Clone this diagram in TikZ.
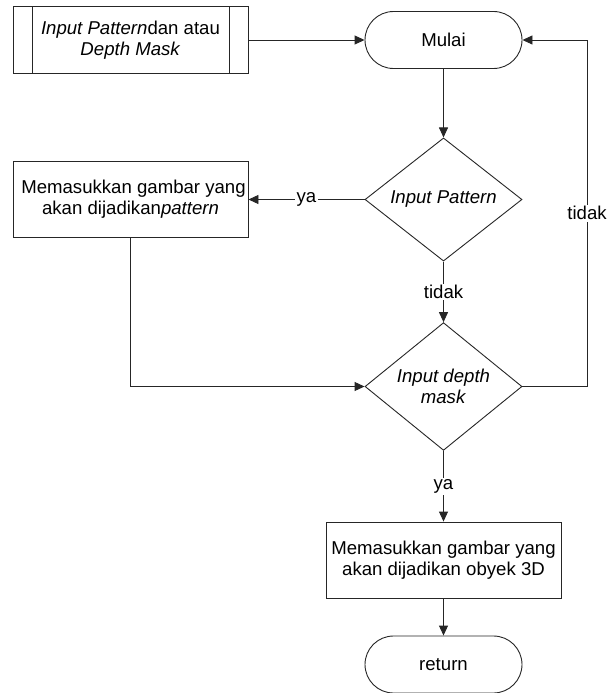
\documentclass[tikz,border=0pt]{standalone}
\usepackage{fontspec}
\setmainfont{Liberation Sans}
\usetikzlibrary{shapes.geometric,shapes.misc,arrows.meta}

\tikzset{
  base/.style={draw=black!85, line width=0.9pt, fill=white, inner sep=0pt,
               align=center, font=\fontsize{18.6}{21}\selectfont},
  procbox/.style={base, rectangle, minimum width=235pt, minimum height=76pt},
  predef/.style={base, rectangle, minimum width=235pt, minimum height=67pt},
  terminal/.style={base, rounded rectangle, minimum width=157pt, minimum height=57pt},
  decision/.style={base, diamond, minimum width=157pt, minimum height=115pt},
  flow/.style={draw=black!85, line width=0.9pt, -{Triangle[length=10pt,width=9pt]}},
  plain/.style={draw=black!85, line width=0.9pt},
  lbl/.style={fill=white, inner sep=1.5pt, font=\fontsize{18.6}{21}\selectfont}
}

\begin{document}
\begin{tikzpicture}[x=1pt, y=-1pt]
  \useasboundingbox (0,0) rectangle (608,693);

  % nodes
  \node[predef] (pre) at (130.5,40) {\textit{Input Pattern}dan atau\\\textit{Depth Mask}};
  \draw[plain] ([xshift=20pt]pre.north west) -- ([xshift=20pt]pre.south west);
  \draw[plain] ([xshift=-19pt]pre.north east) -- ([xshift=-19pt]pre.south east);

  \node[terminal] (mulai) at (443.5,40) {Mulai};
  \node[decision] (d1) at (443.5,199.5) {\textit{Input Pattern}};
  \node[procbox] (box1) at (130.5,199.5) {\hspace*{6pt}Memasukkan gambar yang\\akan dijadikan\textit{pattern}};
  \node[decision] (d2) at (443.5,386.5) {\textit{Input depth}\\\textit{mask}};
  \node[procbox] (box2) at (443.5,560) {Memasukkan gambar yang\\akan dijadikan obyek 3D};
  \node[terminal] (ret) at (443.5,664.5) {return};

  \coordinate (loopB) at (587,386.5);
  \coordinate (loopT) at (587,40);

  % connectors
  \draw[flow] (pre.east) -- (mulai.west);
  \draw[flow] (mulai.south) -- (d1.north);
  \draw[flow] (d1.west) -- node[lbl, pos=0.5] {ya} (box1.east);
  \draw[flow] (d1.south) -- node[lbl, pos=0.5] {tidak} (d2.north);
  \draw[flow] (box1.south) |- (d2.west);
  \draw[flow] (d2.east) -- (loopB) -- node[lbl, pos=0.5] {tidak} (loopT) -- (mulai.east);
  \draw[flow] (d2.south) -- node[lbl, pos=0.5] {ya} (box2.north);
  \draw[flow] (box2.south) -- (ret.north);
\end{tikzpicture}
\end{document}
